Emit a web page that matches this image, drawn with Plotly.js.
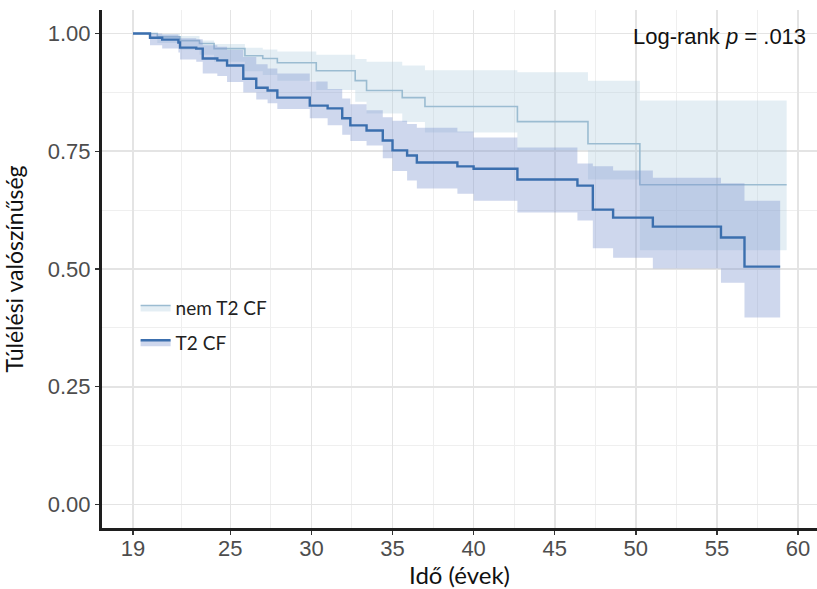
<!DOCTYPE html>
<html>
<head>
<meta charset="utf-8">
<script src="https://cdn.plot.ly/plotly-3.0.1.min.js"></script>
<style>html,body{margin:0;padding:0;background:#fff;}#chart{width:817px;height:589px;}</style>
</head>
<body>
<div id="chart"></div>
<script>
// ---- data ----
const groupNames = ["nem T2 CF", "T2 CF"];

const timeNem  = [19, 20.5, 21.9, 23.1, 24.0, 25.9, 27.0, 27.9, 30.3, 32.7, 33.4, 35.6, 37.0, 42.7, 47.05, 50.25, 59.3];
const survNem  = [1.0, 0.993, 0.985, 0.979, 0.968, 0.953, 0.947, 0.938, 0.921, 0.900, 0.879, 0.864, 0.845, 0.813, 0.766, 0.679, 0.679];
const upperNem = [1.0, 0.999, 0.995, 0.985, 0.978, 0.970, 0.966, 0.962, 0.955, 0.946, 0.940, 0.932, 0.922, 0.918, 0.900, 0.858, 0.858];
const lowerNem = [1.0, 0.980, 0.965, 0.955, 0.940, 0.920, 0.912, 0.900, 0.880, 0.855, 0.830, 0.812, 0.790, 0.752, 0.690, 0.540, 0.540];

const timeT2  = [19, 20.05, 20.8, 21.8, 21.9, 22.9, 23.3, 24.2, 24.8, 25.8, 26.6, 27.3, 27.9, 29.9, 31.0, 31.9, 32.4, 33.4, 34.4, 35.0, 35.9, 36.5, 39.0, 40.0, 42.7, 46.4, 47.35, 48.6, 51.05, 55.25, 56.7, 58.9];
const survT2  = [1.0, 0.991, 0.987, 0.981, 0.970, 0.968, 0.947, 0.943, 0.932, 0.904, 0.885, 0.879, 0.864, 0.847, 0.841, 0.820, 0.805, 0.794, 0.773, 0.752, 0.741, 0.726, 0.718, 0.713, 0.690, 0.677, 0.626, 0.609, 0.590, 0.567, 0.505, 0.505];
const upperT2 = [1.0, 1.0, 0.998, 0.995, 0.990, 0.988, 0.975, 0.972, 0.965, 0.950, 0.935, 0.926, 0.915, 0.898, 0.882, 0.862, 0.850, 0.837, 0.822, 0.815, 0.808, 0.800, 0.792, 0.779, 0.758, 0.724, 0.718, 0.709, 0.694, 0.682, 0.645, 0.645];
const lowerT2 = [1.0, 0.975, 0.968, 0.960, 0.945, 0.940, 0.915, 0.910, 0.897, 0.875, 0.860, 0.852, 0.840, 0.820, 0.805, 0.785, 0.772, 0.762, 0.735, 0.708, 0.688, 0.671, 0.660, 0.645, 0.620, 0.603, 0.544, 0.524, 0.501, 0.471, 0.397, 0.397];

const xTickVals = [19, 25, 30, 35, 40, 45, 50, 55, 60];
const xMinorVals = [22, 27.5, 32.5, 37.5, 42.5, 47.5, 52.5, 57.5];
const yTickVals = [0, 0.25, 0.5, 0.75, 1.0];
const yTickText = ["0.00", "0.25", "0.50", "0.75", "1.00"];
const yMinorVals = [0.125, 0.375, 0.625, 0.875];
const pValueText = "Log-rank <i>p</i> = .013";

// ---- styles ----
const bandColors = ["rgba(165,198,218,0.30)", "rgba(125,150,208,0.38)"];
const lineColors = ["#9bbcd1", "#3b6fae"];
const lineWidths = [1.6, 2.4];

function group(idx, t, s, up, lo) {
  const common = {x: t, mode: "lines", hoverinfo: "skip", legendgroup: "g" + idx};
  return [
    Object.assign({}, common, {y: up, line: {shape: "hv", width: 0}, showlegend: false}),
    Object.assign({}, common, {y: s, name: groupNames[idx], fill: "tonexty", fillcolor: bandColors[idx],
      line: {shape: "hv", width: lineWidths[idx], color: lineColors[idx]}, showlegend: true}),
    Object.assign({}, common, {y: lo, fill: "tonexty", fillcolor: bandColors[idx],
      line: {shape: "hv", width: 0}, showlegend: false})
  ];
}

const data = [].concat(
  group(0, timeNem, survNem, upperNem, lowerNem),
  group(1, timeT2, survT2, upperT2, lowerT2)
);

const tickFont = {family: "Liberation Sans, Arial, sans-serif", size: 22, color: "#4d4d4d"};
const titleFamily = "Lato, Open Sans, sans-serif";

const layout = {
  width: 817, height: 589,
  margin: {l: 102, r: 0, t: 10, b: 61},
  paper_bgcolor: "#ffffff", plot_bgcolor: "#ffffff",
  showlegend: true,
  legend: {x: 0.047, y: 0.462, xanchor: "left", yanchor: "top", bgcolor: "rgba(0,0,0,0)",
    font: {family: "Lato, sans-serif", size: 19, color: "#222"},
    tracegroupgap: 7, itemwidth: 30, traceorder: "grouped"},
  xaxis: {
    range: [17.09, 61.17], tickmode: "array", tickvals: xTickVals,
    showline: true, linecolor: "#1e1e1e", linewidth: 3, mirror: false,
    ticks: "outside", ticklen: 4, tickwidth: 1.5, tickcolor: "#333",
    showgrid: true, gridcolor: "#e4e4e4", gridwidth: 1.6, zeroline: false,
    minor: {tickmode: "array", tickvals: xMinorVals, showgrid: true, gridcolor: "#efefef", gridwidth: 1, ticks: ""},
    tickfont: tickFont, ticklabelstandoff: -5,
    title: {text: "Idő (évek)", font: {family: titleFamily, size: 24, color: "#111"}, standoff: 8}
  },
  yaxis: {
    range: [-0.05, 1.05], tickmode: "array", tickvals: yTickVals, ticktext: yTickText,
    showline: true, linecolor: "#1e1e1e", linewidth: 3,
    ticks: "outside", ticklen: 4, tickwidth: 1.5, tickcolor: "#333",
    showgrid: true, gridcolor: "#e4e4e4", gridwidth: 1.6, zeroline: false,
    minor: {tickmode: "array", tickvals: yMinorVals, showgrid: true, gridcolor: "#efefef", gridwidth: 1, ticks: ""},
    tickfont: tickFont,
    title: {text: "Túlélési valószínűség", font: {family: titleFamily, size: 23, color: "#111"}, standoff: 20}
  },
  annotations: [{
    xref: "paper", yref: "paper", x: 0.9875, y: 0.948, xanchor: "right", yanchor: "middle",
    text: pValueText, showarrow: false,
    font: {family: "Liberation Sans, Arial, sans-serif", size: 22, color: "#111"}
  }]
};

Plotly.newPlot("chart", data, layout, {staticPlot: true, displayModeBar: false});
</script>
</body>
</html>
